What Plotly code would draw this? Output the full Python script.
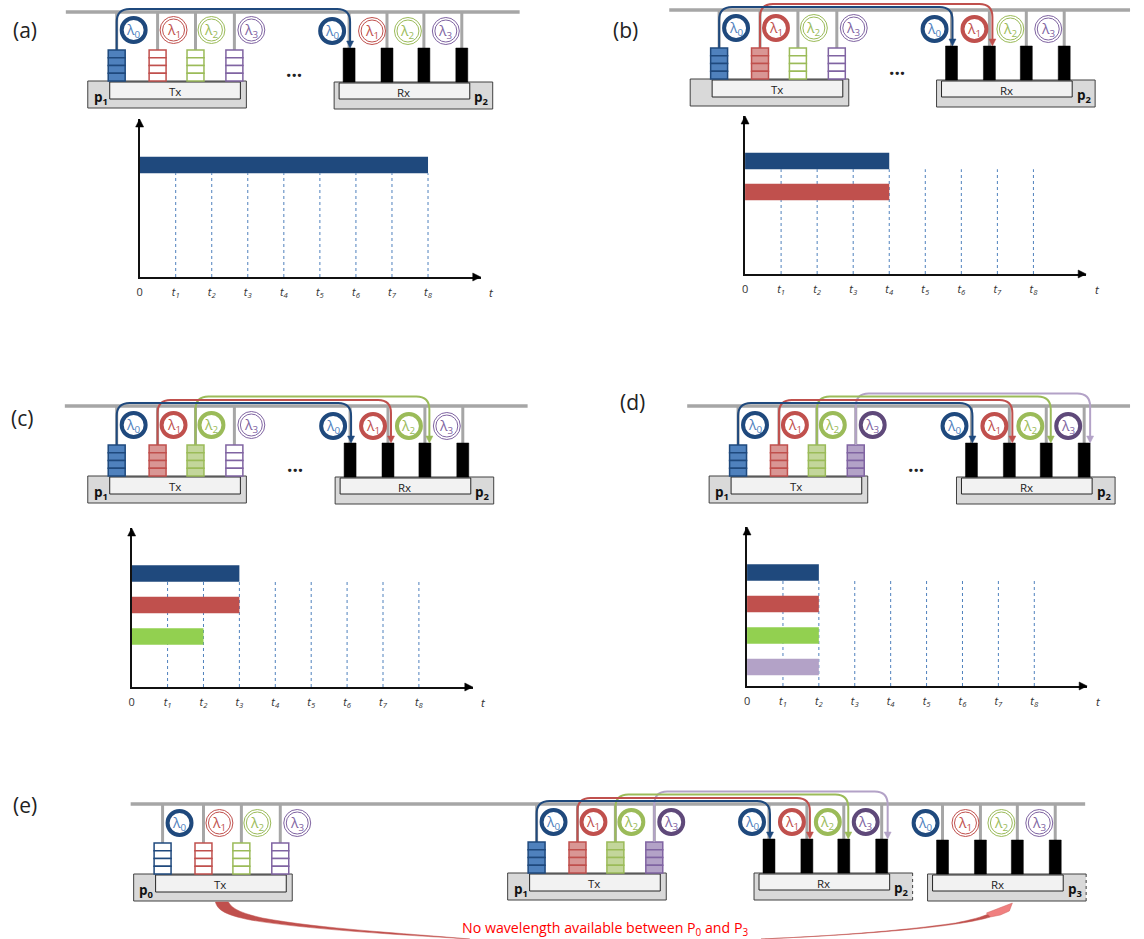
import plotly.graph_objects as go

# ---------- data ----------
channels = ["λ0", "λ1", "λ2", "λ3"]
tick_labels = ["0", "t1", "t2", "t3", "t4", "t5", "t6", "t7", "t8"]
finish_a = [8]
finish_b = [4, 4]
finish_c = [3, 3, 2]
finish_d = [2, 2, 2, 2]
active_a = [1, 0, 0, 0]
active_b = [1, 1, 0, 0]
active_c = [1, 1, 1, 0]
active_d = [1, 1, 1, 1]
rings_blocked = [1, 0, 0, 0]
queues_idle = [0, 0, 0, 0]
note_text = "No wavelength available between P<sub>0</sub> and P<sub>3</sub>"

# ---------- styles ----------
W, H = 1144, 939
FONT = "Open Sans"
LINE = ["#1F497D", "#C0504D", "#9BBB59", "#B3A2C7"]
RING = ["#1F497D", "#C0504D", "#9BBB59", "#5F497A"]
RING_THIN = ["#1F497D", "#C0504D", "#9BBB59", "#8064A2"]
GLYPH = ["#4F81BD", "#C0504D", "#9BBB59", "#8064A2"]
QFILL = ["#4F81BD", "#D99694", "#C3D69B", "#B3A2C7"]
QEDGE = ["#1F497D", "#C0504D", "#9BBB59", "#8064A2"]
BAR = ["#1F497D", "#C0504D", "#92D050", "#B3A2C7"]
GREY = "#A6A6A6"

# ---------- base geometry of one node, measured on panel (a) ----------
QUEUE_X = [116, 157, 195, 234]
TX_RING_X = [133, 173, 211, 251]
RX_BAR_X = [349, 387, 424, 462]
RX_RING_X = [332, 372, 408, 446]
ARROW_DX = [1, 3, 4.5, 6]
LEVEL = [3, 6, 9.5, 12.5]

shapes, notes = [], []


def line(x0, y0, x1, y1, color, width, dash=None, **kw):
    shapes.append(dict(type="line", x0=x0, y0=y0, x1=x1, y1=y1, xref=kw.get("xref", "x"),
                       yref=kw.get("yref", "y"), layer=kw.get("layer", "above"),
                       line=dict(color=color, width=width, dash=dash or "solid")))


def rect(x0, y0, x1, y1, fill, edge, width=1):
    shapes.append(dict(type="rect", x0=x0, y0=y0, x1=x1, y1=y1, xref="x", yref="y",
                       fillcolor=fill, line=dict(color=edge, width=width)))


def circle(cx, cy, r, edge, width):
    shapes.append(dict(type="circle", x0=cx - r, y0=cy - r, x1=cx + r, y1=cy + r, xref="x", yref="y",
                       fillcolor="white", line=dict(color=edge, width=width)))


def path(d, fill=None, edge=None, width=1):
    s = dict(type="path", path=d, xref="x", yref="y", line=dict(color=edge or "rgba(0,0,0,0)", width=width))
    if fill:
        s["fillcolor"] = fill
    shapes.append(s)


def text(x, y, s, size, color="#222222", **kw):
    notes.append(dict(x=x, y=y, xref="x", yref="y", text=s, showarrow=False,
                      font=dict(family=FONT, size=size, color=color),
                      xanchor="center", yanchor="middle", **kw))


def ring(cx, cy, i, on):
    if on:
        circle(cx, cy, 12, RING[i], 4)
    else:
        circle(cx, cy, 13.5, RING_THIN[i], 1)
        circle(cx, cy, 11, RING_THIN[i], 1)
    text(cx, cy, f"λ<sub>{i}</sub>", 14, GLYPH[i])


def tx_node(dx, dy, bus_y, rings, queues, label):
    for x in QUEUE_X:
        line(x + dx, bus_y, x + dx, 52 + dy, GREY, 3)
    rect(87 + dx, 81 + dy, 246 + dx, 108 + dy, "#D9D9D9", "#404040", 1)
    rect(109 + dx, 82 + dy, 240 + dx, 99 + dy, "#F2F2F2", "#262626", 1)
    text(174 + dx, 91 + dy, "Tx", 11.5)
    if label:
        text(100 + dx, 98 + dy, f"<b>{label[0]}<sub>{label[1]}</sub></b>", 13.5, "#111111")
    for i, x in enumerate(QUEUE_X):
        x += dx
        fill = QFILL[i] if queues[i] else "white"
        for k in range(4):
            top = 50 + dy + k * 7.75
            rect(x - 8.5, top, x + 8.5, top + 7.75, fill, QEDGE[i], 1.5)
        ring(TX_RING_X[i] + dx, 30 + dy, i, rings[i])


def rx_node(dx, dy, bus_y, active, label, dashed=False):
    for x in RX_BAR_X:
        line(x + dx, bus_y, x + dx, 50 + dy, GREY, 3)
    x0, x1, y0, y1 = 334 + dx, 493 + dx, 82 + dy, 109 + dy
    rect(x0, y0, x1, y1, "#D9D9D9", "rgba(0,0,0,0)", 0)
    line(x0, y0, x0, y1, "#404040", 1)
    line(x0, y0, x1, y0, "#404040", 1)
    line(x0, y1, x1, y1, "#404040", 1)
    line(x1, y0, x1, y1, "#404040", 1, dash="3px,3px" if dashed else None)
    rect(339 + dx, 83 + dy, 470 + dx, 99 + dy, "#F2F2F2", "#262626", 1)
    text(404 + dx, 92 + dy, "Rx", 11.5)
    if label:
        text(482 + dx, 98 + dy, f"<b>{label[0]}<sub>{label[1]}</sub></b>", 13.5, "#111111")
    for i, x in enumerate(RX_BAR_X):
        rect(x + dx - 6, 48 + dy, x + dx + 6, 82 + dy, "black", "black", 0.5)
        ring(RX_RING_X[i] + dx, 31 + dy, i, active[i])


def lightpaths(tdx, tdy, rdx, rdy, bus_y, active):
    order = [i for i, a in enumerate(active) if a]
    for i in reversed(order):
        x0 = QUEUE_X[i] + tdx
        x1 = RX_BAR_X[i] + rdx + ARROW_DX[i]
        top = bus_y - LEVEL[i]
        r = 13
        tip = 48 + rdy
        d = (f"M {x0},{50 + tdy} L {x0},{top + r} Q {x0},{top} {x0 + r},{top} "
             f"L {x1 - r},{top} Q {x1},{top} {x1},{top + r} L {x1},{tip - 5}")
        path(d, edge=LINE[i], width=2)
        path(f"M {x1 - 3.5},{tip - 7} L {x1 + 3.5},{tip - 7} L {x1},{tip} Z",
             fill=LINE[i], edge=LINE[i], width=0.5)


# ---------- network diagrams ----------
# (bus x0, bus x1, bus y, tx dx, tx dy, rx dx, rx dy, tx label, active)
DIAGRAMS = [
    (63, 518, 12, -2, 0, -2, 0, ("p", 1), active_a),
    (668, 1130, 10, 602, -2, 602, -2, None, active_b),
    (62, 526, 406, -2, 395, -1, 395, ("p", 1), active_c),
    (686, 1130, 406, 621, 395, 622, 395, ("p", 1), active_d),
]
for bx0, bx1, by, tdx, tdy, rdx, rdy, lab, act in DIAGRAMS:
    line(bx0, by, bx1, by, GREY, 3.5)
    tx_node(tdx, tdy, by, act, act, lab)
    rx_node(rdx, rdy, by, act, ("p", 2))
    lightpaths(tdx, tdy, rdx, rdy, by, act)
    text(294 + (tdx + rdx) / 2, 70 + tdy, "<b>...</b>", 19, "#222222")

line(128, 804, 1085, 804, GREY, 3.5)
tx_node(44, 793, 804, rings_blocked, queues_idle, ("p", 0))
tx_node(419, 792, 804, active_d, active_d, ("p", 1))
rx_node(419, 791, 804, active_d, ("p", 2), dashed=True)
rx_node(593, 792, 804, rings_blocked, ("p", 3), dashed=True)
lightpaths(419, 792, 419, 791, 804, active_d)

# swoosh from p0 to p3
path("M 213,902 C 215,910 223,915 248,920 C 300,929 400,935 468,939 "
     "C 400,933 320,929 260,918 C 243,914 230,910 226,902 Z", fill="#C0504D", edge="#C0504D", width=0.5)
path("M 760,939 C 830,936 900,931 955,923 C 970,920 982,917 990,913 "
     "L 990,917 C 960,926 880,934 760,939 Z", fill="#C0504D", edge="#C0504D", width=0.5)
path("M 1012,903 L 986,913 L 990,917 L 1000,915 L 1009,911 Z", fill="#F08080", edge="#D0605D", width=0.5)
text(604, 928, note_text, 14.2, "#FF0000")

for x, y, s in [(22, 30, "(a)"), (624, 30, "(b)"), (19, 418, "(c)"), (631, 402, "(d)"), (22, 805, "(e)")]:
    text(x, y, s, 21, "#222222")

# ---------- time charts: real bars on real axes ----------
fig = go.Figure()
# (finish, origin x, baseline y, arrow tip x, arrow tip y, t1 px, t8 px, first bar centre, spacing)
CHARTS = [
    (finish_a, 137, 277, 479, 119, 173, 426, 165, 31.3),
    (finish_b, 744, 274, 1086, 116, 780, 1033, 161, 31.0),
    (finish_c, 129, 687, 471, 528, 165, 417, 573.5, 31.5),
    (finish_d, 746, 686, 1087, 527, 782, 1034, 572.5, 31.5),
]
fig.add_trace(go.Scatter(x=[], y=[], xaxis="x", yaxis="y", showlegend=False))
layout_axes = {}
for n, (finish, ox, by, tipx, tipy, t1, t8, c0, sp) in enumerate(CHARTS, start=2):
    dt = (t8 - t1) / 7
    idx = list(range(len(finish)))
    fig.add_trace(go.Bar(x=finish, y=idx, base=0, orientation="h", width=16.5 / sp,
                         marker=dict(color=BAR[:len(finish)], line=dict(width=0)),
                         xaxis=f"x{n}", yaxis=f"y{n}", showlegend=False, hoverinfo="x+y"))
    ticktext = ["0"] + [f"<i>{t[0]}<sub>{t[1]}</sub></i>" for t in tick_labels[1:]]
    layout_axes[f"xaxis{n}"] = dict(
        domain=[ox / W, tipx / W], range=[0, (tipx - ox) / dt], anchor=f"y{n}",
        tickvals=list(range(len(tick_labels))), ticktext=ticktext, ticks="outside", ticklen=4,
        tickcolor="rgba(0,0,0,0)", tickfont=dict(family=FONT, size=11, color="#333333"),
        showline=True, linecolor="#111111", linewidth=1.5, showgrid=False, zeroline=False)
    layout_axes[f"yaxis{n}"] = dict(
        domain=[1 - by / H, 1 - tipy / H], range=[(by - c0) / sp, (tipy - c0) / sp], anchor=f"x{n}",
        showticklabels=False, ticks="", showline=True, linecolor="#111111", linewidth=1.5,
        showgrid=False, zeroline=False)
    dash_top = 8.25 / sp
    for k in range(1, len(tick_labels)):
        line(k, (by - c0) / sp, k, dash_top, "#4F81BD", 1, dash="3px,3px",
             xref=f"x{n}", yref=f"y{n}", layer="below")
    path(f"M {tipx},{by} L {tipx - 8},{by - 4} L {tipx - 8},{by + 4} Z", fill="black", edge="black", width=0.5)
    path(f"M {ox},{tipy} L {ox - 4},{tipy + 8} L {ox + 4},{tipy + 8} Z", fill="black", edge="black", width=0.5)
    text(tipx + 11, by + 15, "<i>t</i>", 11.5, "#333333")

fig.update_layout(
    width=W, height=H, margin=dict(l=0, r=0, t=0, b=0), autosize=False,
    paper_bgcolor="white", plot_bgcolor="rgba(0,0,0,0)", showlegend=False,
    xaxis=dict(range=[0, W], domain=[0, 1], visible=False, fixedrange=True),
    yaxis=dict(range=[H, 0], domain=[0, 1], visible=False, fixedrange=True),
    shapes=shapes, annotations=notes, **layout_axes)

fig.write_html("out.html", config={"displayModeBar": False},
               post_script="document.body.style.margin='0';")
